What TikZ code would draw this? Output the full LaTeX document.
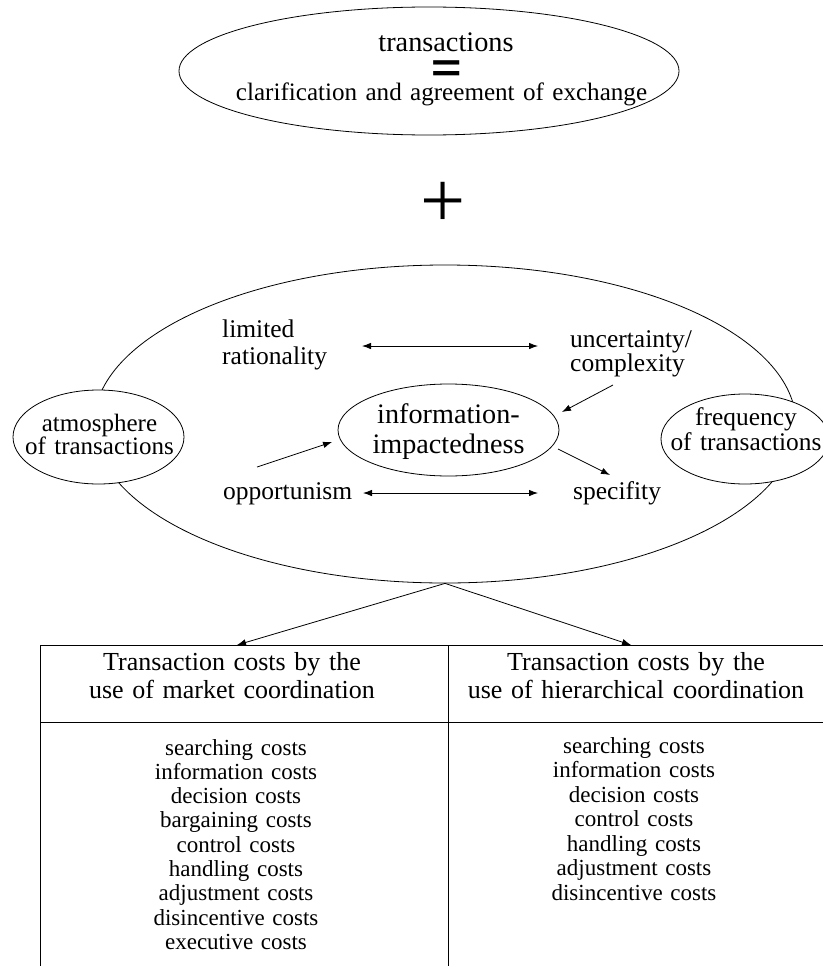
\documentclass[tikz,border=0pt]{standalone}
\usepackage{fontspec}
\usepackage{graphicx}
\setmainfont{Liberation Serif}
\newfontfamily\symfont{Liberation Sans}
\usetikzlibrary{shapes.geometric,arrows.meta}
\newcommand\fsz[2]{\fontsize{#1}{#2}\selectfont\lineskiplimit=-20pt\relax}
\tikzset{
  ell/.style={draw, ellipse, inner sep=0pt, line width=0.8pt},
  txt/.style={inner sep=0pt, align=center, anchor=base},
  ltxt/.style={inner sep=0pt, align=left, anchor=base west},
  arr/.style={line width=0.8pt, -{Latex[length=9pt,width=6.5pt]}},
  darr/.style={line width=0.8pt, {Latex[length=9pt,width=6.5pt]}-{Latex[length=9pt,width=6.5pt]}},
  rule/.style={line width=0.8pt},
}
\begin{document}
\begin{tikzpicture}[x=1pt,y=-1pt]
\useasboundingbox (0,0) rectangle (822,966);

% top ellipse
\node[ell, minimum width=500pt, minimum height=128pt] (top) at (429,71) {};
\node[txt, text width=300pt, font=\fsz{28.3}{30}] (t1) at (446,52) {transactions};
\node[inner sep=0pt, font=\symfont\bfseries\fsz{40}{40}] (eq) at (447,71) {\scalebox{1.3}[1]{=}};
\node[txt, text width=500pt, font=\fsz{25.1}{27}] (t2) at (441.5,100) {clarification and agreement of exchange};

% plus
\node[inner sep=0pt, font=\fsz{80}{80}] (plus) at (443,205) {+};

% big ellipse
\node[ell, minimum width=702pt, minimum height=318pt] (big) at (445,424) {};

% side ellipses
\node[ell, fill=white, minimum width=171pt, minimum height=94pt] (atm) at (98.5,437) {};
\node[txt, text width=170pt, font=\fsz{25}{23}] (atmT) at (99.5,431.7) {atmosphere\\of transactions};
\node[ell, fill=white, minimum width=168pt, minimum height=90pt] (freq) at (745,439) {};
\node[txt, text width=170pt, font=\fsz{25.4}{25.7}] (freqT) at (746,425) {frequency\\of transactions};

% information ellipse
\node[ell, minimum width=221pt, minimum height=92pt] (info) at (448.5,430) {};
\node[txt, text width=220pt, font=\fsz{28.2}{30}] (infoT) at (448.5,423) {information-\\impactedness};

% factors
\node[ltxt, text width=200pt, font=\fsz{25.5}{26.5}] (lim) at (222,337.5) {limited\\rationality};
\node[ltxt, text width=200pt, font=\fsz{25.5}{23.5}] (unc) at (570,347.5) {uncertainty/\\complexity};
\node[ltxt, text width=200pt, font=\fsz{25.5}{26}] (opp) at (223,499) {opportunism};
\node[ltxt, text width=200pt, font=\fsz{25.5}{26}] (spe) at (573,499) {specifity};

% arrow end points
\coordinate (a1s) at (362,346); \coordinate (a1e) at (538,346);
\coordinate (a2s) at (613,385); \coordinate (a2e) at (562,412);
\coordinate (a3s) at (257,467); \coordinate (a3e) at (332,442);
\coordinate (a4s) at (558,449); \coordinate (a4e) at (610,475);
\coordinate (a5s) at (363,493); \coordinate (a5e) at (538,493);
\coordinate (hL) at (237,645); \coordinate (hR) at (631,645);

\draw[darr] (a1s) -- (a1e);
\draw[arr] (a2s) -- (a2e);
\draw[arr] (a3s) -- (a3e);
\draw[arr] (a4s) -- (a4e);
\draw[darr] (a5s) -- (a5e);
\draw[arr] (big.south) -- (hL);
\draw[arr] (big.south) -- (hR);

% table
\draw[rule] (40,980) -- (40,645) -- (830,645);
\draw[rule] (40,722) -- (830,722);
\draw[rule] (448,645) -- (448,980);

\node[txt, text width=400pt, font=\fsz{26}{28}] (headL) at (232,670) {Transaction costs by the\\use of market coordination};
\node[txt, text width=400pt, font=\fsz{26}{28}] (headR) at (636,670) {Transaction costs by the\\use of hierarchical coordination};

\node[txt, text width=400pt, font=\fsz{23}{24.3}] (bodyL) at (236,755) {searching costs\\information costs\\decision costs\\bargaining costs\\control costs\\handling costs\\adjustment costs\\disincentive costs\\executive costs};
\node[txt, text width=400pt, font=\fsz{23}{24.5}] (bodyR) at (634,753) {searching costs\\information costs\\decision costs\\control costs\\handling costs\\adjustment costs\\disincentive costs};
\end{tikzpicture}
\end{document}
